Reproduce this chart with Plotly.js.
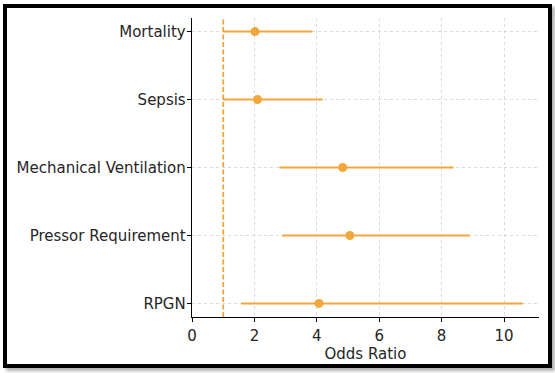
<!DOCTYPE html>
<html>
<head>
<meta charset="utf-8">
<script src="https://cdn.plot.ly/plotly-3.0.1.min.js"></script>
<style>
html,body{margin:0;padding:0;background:#fff;width:555px;height:373px;overflow:hidden;}
#frame{position:absolute;left:3px;top:4px;width:541px;height:356px;border:4px solid #000;box-shadow:3px 3px 3px #b0b0b0;background:#fff;}
#chart{position:absolute;left:0;top:0;width:541px;height:356px;}
</style>
</head>
<body>
<div id="frame"><div id="chart"></div></div>
<script>
const outcomes = ["Mortality", "Sepsis", "Mechanical Ventilation", "Pressor Requirement", "RPGN"];
const oddsRatio = [2.02, 2.1, 4.83, 5.06, 4.07];
const ciLower = [1.0, 1.0, 2.8, 2.88, 1.57];
const ciUpper = [3.86, 4.19, 8.38, 8.9, 10.6];
const nullValue = 1;
const xTicks = [0, 2, 4, 6, 8, 10];

const orange = "rgb(241,167,60)";
const trace = {
  type: "scatter",
  mode: "markers",
  x: oddsRatio,
  y: outcomes,
  marker: {color: orange, size: 9},
  error_x: {
    type: "data",
    symmetric: false,
    array: oddsRatio.map((v, i) => ciUpper[i] - v),
    arrayminus: oddsRatio.map((v, i) => v - ciLower[i]),
    color: orange,
    thickness: 2,
    width: 0
  },
  hoverinfo: "skip"
};

const layout = {
  width: 541, height: 356,
  margin: {l: 185, r: 9, t: 10, b: 47},
  paper_bgcolor: "#fff", plot_bgcolor: "#fff",
  font: {family: "DejaVu Sans", size: 15, color: "#262626"},
  showlegend: false,
  xaxis: {
    range: [0, 11.12],
    tickvals: xTicks,
    ticktext: xTicks.map(String),
    ticks: "outside", ticklen: 4, tickcolor: "#000", tickwidth: 1,
    ticklabelstandoff: 1,
    showline: true, linecolor: "#000", linewidth: 1.3,
    showgrid: true, gridcolor: "#d2d2d2", gridwidth: 0.8, griddash: "3px,3px",
    zeroline: false,
    title: {text: "Odds Ratio", standoff: 1, font: {size: 15}}
  },
  yaxis: {
    type: "category",
    categoryorder: "array",
    categoryarray: outcomes.slice().reverse(),
    range: [-0.2, 4.2],
    ticks: "outside", ticklen: 4, tickcolor: "#000", tickwidth: 1,
    ticklabelstandoff: -2,
    showline: true, linecolor: "#000", linewidth: 1.3,
    showgrid: true, gridcolor: "#d2d2d2", gridwidth: 0.8, griddash: "3px,3px",
    zeroline: false
  },
  shapes: [{
    type: "line", xref: "x", yref: "paper",
    x0: nullValue, x1: nullValue, y0: 0, y1: 1,
    line: {color: orange, width: 1.8, dash: "5px,2.5px"}
  }]
};

Plotly.newPlot("chart", [trace], layout, {displayModeBar: false, staticPlot: true});
</script>
</body>
</html>
